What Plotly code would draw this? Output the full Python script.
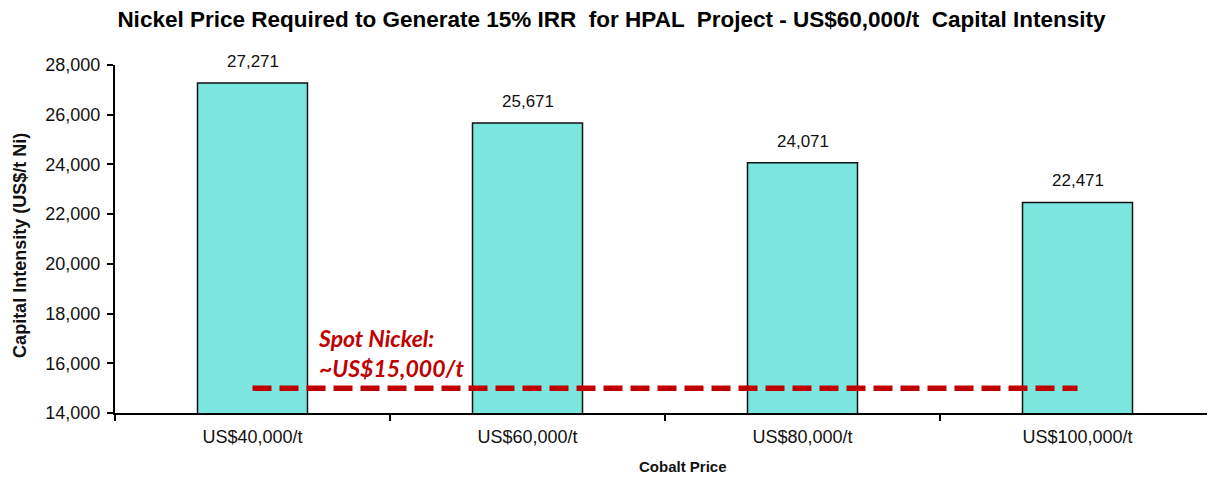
import plotly.graph_objects as go

categories = ["US$40,000/t", "US$60,000/t", "US$80,000/t", "US$100,000/t"]
nickel_price = [27271, 25671, 24071, 22471]
spot_nickel = [15000, 15000]
spot_x = [categories[0], categories[-1]]
bar_labels = [f"{v:,}" for v in nickel_price]

FONT = "Liberation Sans, Arial"

fig = go.Figure()
fig.add_trace(go.Bar(
    x=categories, y=nickel_price, width=0.4,
    marker=dict(color="#7AE6DD", line=dict(color="#111111", width=1.5)),
))
for c, v, t in zip(categories, nickel_price, bar_labels):
    fig.add_annotation(
        x=c, y=v, xref="x", yref="y", text=t, showarrow=False,
        yanchor="bottom", yshift=10,
        font=dict(family=FONT, size=17, color="#111111"),
    )
fig.add_trace(go.Scatter(
    x=spot_x, y=spot_nickel, mode="lines",
    line=dict(color="#C00000", width=5.5, dash="19px,8px"),
))
fig.add_annotation(
    x=0.232, y=15170, xref="x", yref="y", xanchor="left", yanchor="bottom",
    text="<b><i>Spot Nickel:<br>~US$15,000/t</i></b>", showarrow=False, align="left",
    font=dict(family="Lato, Open Sans", size=23, color="#C00000"),
)
fig.add_annotation(
    x=0.516, y=-0.155, xref="paper", yref="paper", xanchor="center", yanchor="middle",
    text="<b>Cobalt Price</b>", showarrow=False,
    font=dict(family=FONT, size=15, color="#111111"),
)
fig.add_annotation(
    x=-0.0864, y=0.483, xref="paper", yref="paper", xanchor="center", yanchor="middle",
    text="<b>Capital Intensity (US$/t Ni)</b>", showarrow=False, textangle=-90,
    font=dict(family=FONT, size=18, color="#111111"),
)
fig.update_layout(
    width=1207, height=472,
    margin=dict(l=107, r=0, t=57, b=67),
    paper_bgcolor="white", plot_bgcolor="white",
    showlegend=False,
    title=dict(
        text="<b>Nickel Price Required to Generate 15% IRR  for HPAL  Project - US$60,000/t  Capital Intensity</b>",
        x=0.5, xanchor="center", xref="container", y=0.977, yanchor="middle",
        font=dict(family=FONT, size=22.5, color="#000000"),
    ),
    bargap=0.6,
)
fig.update_xaxes(
    showline=True, linecolor="#000000", linewidth=2,
    ticks="outside", tickson="boundaries", ticklen=6, tickwidth=2, tickcolor="#000000",
    tickfont=dict(family=FONT, size=18, color="#111111"), ticklabelstandoff=6,
    showgrid=False, automargin=False,
)
fig.update_yaxes(
    range=[14000, 28000], dtick=2000, tickformat=",",
    showline=True, linecolor="#000000", linewidth=2,
    ticks="outside", ticklen=6, tickwidth=2, tickcolor="#000000",
    tickfont=dict(family=FONT, size=18, color="#111111"), ticklabelstandoff=3,
    showgrid=False, zeroline=False, automargin=False,
)
fig.write_html("out.html")
